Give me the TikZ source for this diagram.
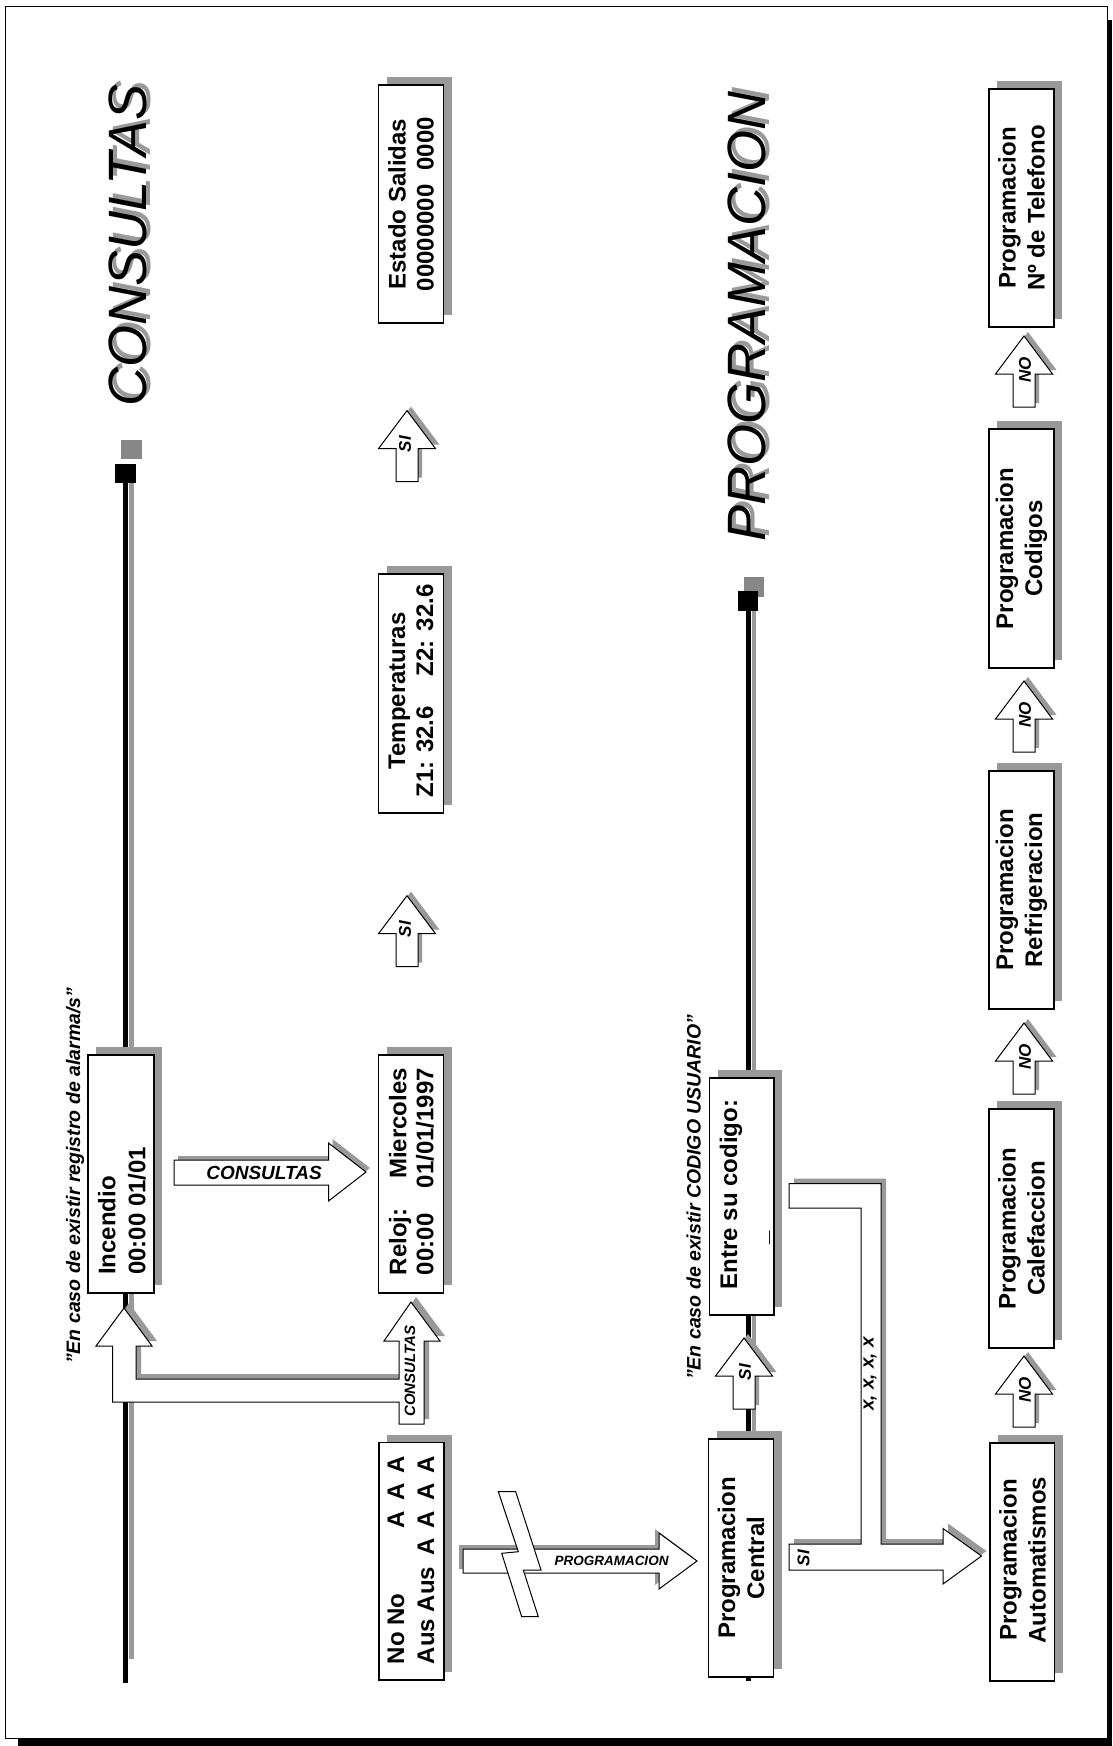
\documentclass[tikz,border=0pt]{standalone}
\usepackage{fontspec}
\setmainfont{Liberation Sans}
\definecolor{sh}{gray}{0.6}
\definecolor{sq}{gray}{0.53}
\tikzset{
  boxst/.style={draw, fill=white, line width=1.2pt, inner sep=0pt, outer sep=0pt},
  boxtxt/.style={font=\fontsize{24}{28}\selectfont\bfseries, rotate=90, inner sep=0pt, align=center},
  arrst/.style={draw, fill=white, line width=1pt, line join=miter},
  lab/.style={font=\fontsize{17}{20}\selectfont\bfseries\itshape, inner sep=0pt},
  ttl/.style={font=\fontsize{54}{60}\selectfont\itshape, inner sep=0pt, rotate=90, anchor=base west},
  note/.style={font=\fontsize{19.5}{22}\selectfont\bfseries\itshape, inner sep=0pt, rotate=90, anchor=base west},
}
\newcommand\mkbox[5]{%
  \fill[sh] ({#2+8},{#3-8}) rectangle ({#4+8},{#5-8});
  \node[boxst, minimum width={#4-#2}, minimum height={#5-#3}] (#1) at ({(#2+#4)/2},{(#3+#5)/2}) {};}
\newcommand\uparr[3]{%
  \path[#3] (#1,#2) -- ({#1+28.5},{#2+38}) -- ({#1+11},{#2+38}) -- ({#1+11},{#2+71})
    -- ({#1-11},{#2+71}) -- ({#1-11},{#2+38}) -- ({#1-28.5},{#2+38}) -- cycle;}
\newcommand\consH[1]{\path[#1] (174,1160) -- (328.5,1160) -- (328.5,1143) -- (366,1172)
    -- (328.5,1201) -- (328.5,1185) -- (174,1185) -- cycle;}
\newcommand\consB[1]{\path[#1] (399,1424) -- (424,1424) -- (424,1341) -- (440,1341)
    -- (411,1302) -- (384,1341) -- (399,1341) -- (399,1379) -- (136,1379) -- (136,1346)
    -- (152,1346) -- (124,1308) -- (96,1346) -- (112.5,1346) -- (112.5,1402)
    -- (399,1402) -- cycle;}
\newcommand\progH[1]{\path[#1] (463,1549) -- (659,1549) -- (659,1533) -- (697,1561)
    -- (659,1589) -- (659,1573) -- (463,1573) -- cycle;}
\newcommand\siB[1]{\path[#1] (789,1570) -- (943,1570) -- (943,1584) -- (981.5,1556)
    -- (943,1528.5) -- (943,1544) -- (881,1544) -- (881,1183.5) -- (789,1183.5)
    -- (789,1208) -- (861,1208) -- (861,1544) -- (789,1544) -- cycle;}
\begin{document}
\begin{tikzpicture}[x=1pt,y=-1pt]
\useasboundingbox (0,0) rectangle (1112,1746);
% page frame with heavy shadow
\fill[black] (18,20) rectangle (1112,1746);
\draw[fill=white, line width=1pt] (5,6.5) rectangle (1107,1738);

% vertical double lines
\draw[sh, line width=4.5pt] (131.5,483) -- (131.5,1659);
\draw[black, line width=4.5pt] (125.5,483) -- (125.5,1683);
\draw[sh, line width=4.5pt] (754,611) -- (754,1660);
\draw[black, line width=5pt] (748.5,611) -- (748.5,1681);
% end squares
\fill[sq] (121,440) rectangle (142,459);
\fill[black] (115,464) rectangle (136,483);
\fill[sq] (744,577) rectangle (764,597);
\fill[black] (738,591) rectangle (758,611);

% titles
\node[ttl, text=sh] at (150,403) {CONSULTAS};
\node[ttl] (consttl) at (146,407) {CONSULTAS};
\node[ttl, text=sh] at (769,538) {PROGRAMACION};
\node[ttl] (progttl) at (765,542) {PROGRAMACION};

% notes
\node[note] (note1) at (80,1364) {"En caso de existir registro de alarma/s"};
\node[note] (note2) at (700.5,1380) {"En caso de existir CODIGO USUARIO"};

% boxes
\mkbox{incendio}{88}{1055}{154}{1293}
\mkbox{reloj}{378.5}{1055}{443.5}{1293}
\mkbox{temp}{378.5}{574}{443.5}{813}
\mkbox{estado}{378.5}{85}{443.5}{323}
\mkbox{nono}{379}{1442.5}{444}{1680}
\mkbox{entre}{709.5}{1078}{774}{1315}
\mkbox{central}{708.5}{1439}{773.5}{1677}
\mkbox{autom}{990}{1443}{1054.5}{1681}
\mkbox{calef}{989}{1109}{1054}{1348}
\mkbox{refrig}{989}{771}{1054}{1009}
\mkbox{codigos}{989}{429}{1054}{668}
\mkbox{telef}{989}{89}{1054}{327}

% box texts
\node[boxtxt, anchor=west, align=left, font=\fontsize{24}{30}\selectfont\bfseries] (incendiot) at (122,1275) {Incendio\\00:00 01/01};
\node[boxtxt, align=left, font=\fontsize{24}{27}\selectfont\bfseries] (relojt) at (411.5,1171.5) {\makebox[207pt]{Reloj:\hfill Miercoles}\\\makebox[207pt]{00:00\hfill 01/01/1997}};
\node[boxtxt] (tempt) at (411,691) {Temperaturas\\Z1: 32.6\hspace{30pt}Z2: 32.6};
\node[boxtxt] (estadot) at (411,204) {Estado Salidas\\00000000\hspace{14pt}0000};
\node[boxtxt, align=left, font=\fontsize{24}{30}\selectfont\bfseries] (nonot) at (411,1560) {\makebox[208pt]{No No\hfill A\hspace{10pt}A\hspace{10pt}A}\\\makebox[208pt]{Aus Aus\hfill A\hspace{10pt}A\hspace{10pt}A\hspace{10pt}A}};
\node[boxtxt, anchor=west, align=left, font=\fontsize{24}{30}\selectfont\bfseries] (entret) at (745,1289.5) {Entre su codigo:\\\hspace*{45pt}\_};
\node[boxtxt, font=\fontsize{24}{29}\selectfont\bfseries] (centralt) at (741,1558) {Programacion\\Central};
\node[boxtxt, font=\fontsize{24}{29}\selectfont\bfseries] (automt) at (1022.5,1560) {Programacion\\Automatismos};
\node[boxtxt, font=\fontsize{24}{29}\selectfont\bfseries] (caleft) at (1021.5,1228.5) {Programacion\\Calefaccion};
\node[boxtxt, font=\fontsize{24}{29}\selectfont\bfseries] (refrigt) at (1021.5,890) {Programacion\\Refrigeracion};
\node[boxtxt, font=\fontsize{24}{29}\selectfont\bfseries] (codigost) at (1021.5,548.5) {Programacion\\Codigos};
\node[boxtxt, font=\fontsize{24}{29}\selectfont\bfseries] (teleft) at (1021.5,208) {Programacion\\Nº de Telefono};

% block arrows: CONSULTAS (horizontal)
\consH{fill=sh, shift={(4pt,4pt)}}
\consH{arrst}
\node[lab, font=\fontsize{19}{22}\selectfont\bfseries\itshape] (conshl) at (264,1173) {CONSULTAS};
% bent CONSULTAS arrow
\consB{fill=sh, shift={(5pt,5pt)}}
\consB{arrst}
\node[lab, rotate=90, font=\fontsize{15}{18}\selectfont\bfseries\itshape] (consbl) at (410,1371) {CONSULTAS};
% SI arrows upper row
\uparr{407}{895.7}{fill=sh, shift={(4pt,4pt)}}
\uparr{407}{895.7}{arrst}
\node[lab, rotate=90] (si1) at (405,929) {SI};
\uparr{407}{410.6}{fill=sh, shift={(4pt,4pt)}}
\uparr{407}{410.6}{arrst}
\node[lab, rotate=90] (si2) at (405,444) {SI};
% SI arrow middle
\uparr{744}{1338}{fill=sh, shift={(4pt,4pt)}}
\uparr{744}{1338}{arrst}
\node[lab, rotate=90] (si3) at (745,1372) {SI};
% NO arrows
\uparr{1024}{1356}{fill=sh, shift={(4pt,4pt)}}
\uparr{1024}{1356}{arrst}
\node[lab, rotate=90] (no1) at (1025,1390) {NO};
\uparr{1024}{1023}{fill=sh, shift={(4pt,4pt)}}
\uparr{1024}{1023}{arrst}
\node[lab, rotate=90] (no2) at (1025,1057) {NO};
\uparr{1024}{681}{fill=sh, shift={(4pt,4pt)}}
\uparr{1024}{681}{arrst}
\node[lab, rotate=90] (no3) at (1025,715) {NO};
\uparr{1024}{336}{fill=sh, shift={(4pt,4pt)}}
\uparr{1024}{336}{arrst}
\node[lab, rotate=90] (no4) at (1025,370) {NO};
% PROGRAMACION arrow with break
\progH{fill=sh, shift={(-4pt,4pt)}}
\progH{arrst}
\path[arrst] (498.3,1491.7) -- (515.7,1491.7) -- (541,1570) -- (523.3,1570) -- (538.3,1616.7)
  -- (521.7,1616.7) -- (501.7,1553.3) -- (518.3,1551.7) -- cycle;
\node[lab, font=\fontsize{13.5}{16}\selectfont\bfseries\itshape] (progl) at (611.5,1561) {PROGRAMACION};
% bent SI arrow to Automatismos
\siB{fill=sh, shift={(5pt,5pt)}}
\siB{arrst}
\node[lab, rotate=90] (si4) at (803.5,1558) {SI};
\node[lab, rotate=90, font=\fontsize{19}{22}\selectfont\bfseries\itshape] (xxl) at (870,1374) {x, x, x, x};
\end{tikzpicture}
\end{document}
